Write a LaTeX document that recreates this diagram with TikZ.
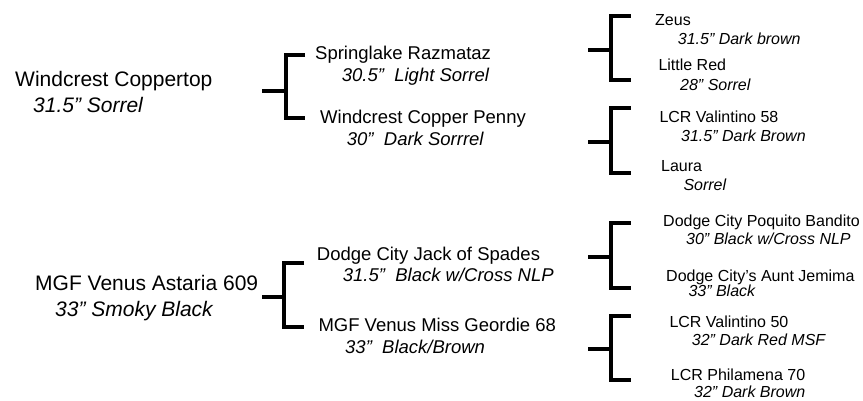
\documentclass[tikz,border=0pt]{standalone}
\usepackage{fontspec}
\setmainfont{Liberation Sans}

\begin{document}
\begin{tikzpicture}[x=1pt, y=-1pt,
    gen1/.style={anchor=base west, inner sep=0pt, font=\fontsize{21}{25}\selectfont},
    gen1c/.style={gen1, font=\fontsize{21}{25}\selectfont\itshape},
    gen2/.style={anchor=base west, inner sep=0pt, font=\fontsize{18.5}{22}\selectfont},
    gen2c/.style={gen2, font=\fontsize{18.5}{22}\selectfont\itshape},
    gen3/.style={anchor=base west, inner sep=0pt, font=\fontsize{16}{19}\selectfont},
    gen3c/.style={gen3, font=\fontsize{16}{19}\selectfont\itshape},
    pedline/.style={line width=4pt}]
    \useasboundingbox (0, 0) rectangle (863, 400);

    % first generation
    \node[gen1] (cop) at (15, 86.5) {Windcrest Coppertop};
    \node[gen1c] (copc) at (33, 112) {31.5” Sorrel};
    \node[gen1] (ast) at (35, 290.5) {MGF Venus Astaria 609};
    \node[gen1c] (astc) at (55, 316) {33” Smoky Black};

    % second generation
    \node[gen2] (raz) at (315, 59.3) {Springlake Razmataz};
    \node[gen2c] (razc) at (341.7, 81.7) {30.5”\ \ Light Sorrel};
    \node[gen2] (pen) at (320, 123.3) {Windcrest Copper Penny};
    \node[gen2c] (penc) at (346.7, 145.7) {30”\ \ Dark Sorrrel};
    \node[gen2] (jack) at (316.7, 260) {Dodge City Jack of Spades};
    \node[gen2c] (jackc) at (342.7, 281) {31.5”\ \ Black w/Cross NLP};
    \node[gen2] (geo) at (318.3, 331) {MGF Venus Miss Geordie 68};
    \node[gen2c] (geoc) at (345, 353.3) {33”\ \ Black/Brown};

    % third generation
    \node[gen3] (zeus) at (655, 25) {Zeus};
    \node[gen3c] (zeusc) at (677.7, 44.3) {31.5” Dark brown};
    \node[gen3] (red) at (658.3, 70) {Little Red};
    \node[gen3c] (redc) at (680, 90) {28” Sorrel};
    \node[gen3] (val58) at (659.3, 122.3) {LCR Valintino 58};
    \node[gen3c] (val58c) at (681, 141) {31.5” Dark Brown};
    \node[gen3] (laura) at (661, 171.7) {Laura};
    \node[gen3c] (laurac) at (683.3, 190) {Sorrel};
    \node[gen3] (band) at (663, 226.7) {Dodge City Poquito Bandito};
    \node[gen3c] (bandc) at (686, 244.3) {30” Black w/Cross NLP};
    \node[gen3] (jem) at (666, 281.7) {Dodge City’s Aunt Jemima};
    \node[gen3c] (jemc) at (688.3, 296.7) {33” Black};
    \node[gen3] (val50) at (669.3, 327.3) {LCR Valintino 50};
    \node[gen3c] (val50c) at (691.7, 345.7) {32” Dark Red MSF};
    \node[gen3] (phil) at (670.7, 380) {LCR Philamena 70};
    \node[gen3c] (philc) at (694, 397.5) {32” Dark Brown};

    % brackets
    \coordinate (s1) at (262, 90.5);
    \coordinate (j1) at (285.5, 90.5);
    \coordinate (t1) at (305, 55);
    \coordinate (b1) at (305, 118.3);
    \coordinate (s2) at (262, 296.7);
    \coordinate (j2) at (284, 296.7);
    \coordinate (t2) at (304, 262.7);
    \coordinate (b2) at (304, 327.3);
    \coordinate (s3) at (588.3, 50);
    \coordinate (j3) at (610.5, 50);
    \coordinate (t3) at (630.5, 15.8);
    \coordinate (b3) at (630.5, 80);
    \coordinate (s4) at (588.3, 142.3);
    \coordinate (j4) at (610.5, 142.3);
    \coordinate (t4) at (630.5, 108.3);
    \coordinate (b4) at (630.5, 172.7);
    \coordinate (s5) at (588.3, 256.7);
    \coordinate (j5) at (610.5, 256.7);
    \coordinate (t5) at (630.5, 223.3);
    \coordinate (b5) at (630.5, 288.3);
    \coordinate (s6) at (588.3, 349);
    \coordinate (j6) at (610.5, 349);
    \coordinate (t6) at (630.5, 316);
    \coordinate (b6) at (630.5, 380);

    \draw[pedline] (s1) -- (j1);
    \draw[pedline] (t1) -| (j1) |- (b1);
    \draw[pedline] (s2) -- (j2);
    \draw[pedline] (t2) -| (j2) |- (b2);
    \draw[pedline] (s3) -- (j3);
    \draw[pedline] (t3) -| (j3) |- (b3);
    \draw[pedline] (s4) -- (j4);
    \draw[pedline] (t4) -| (j4) |- (b4);
    \draw[pedline] (s5) -- (j5);
    \draw[pedline] (t5) -| (j5) |- (b5);
    \draw[pedline] (s6) -- (j6);
    \draw[pedline] (t6) -| (j6) |- (b6);
  \end{tikzpicture}
\end{document}
